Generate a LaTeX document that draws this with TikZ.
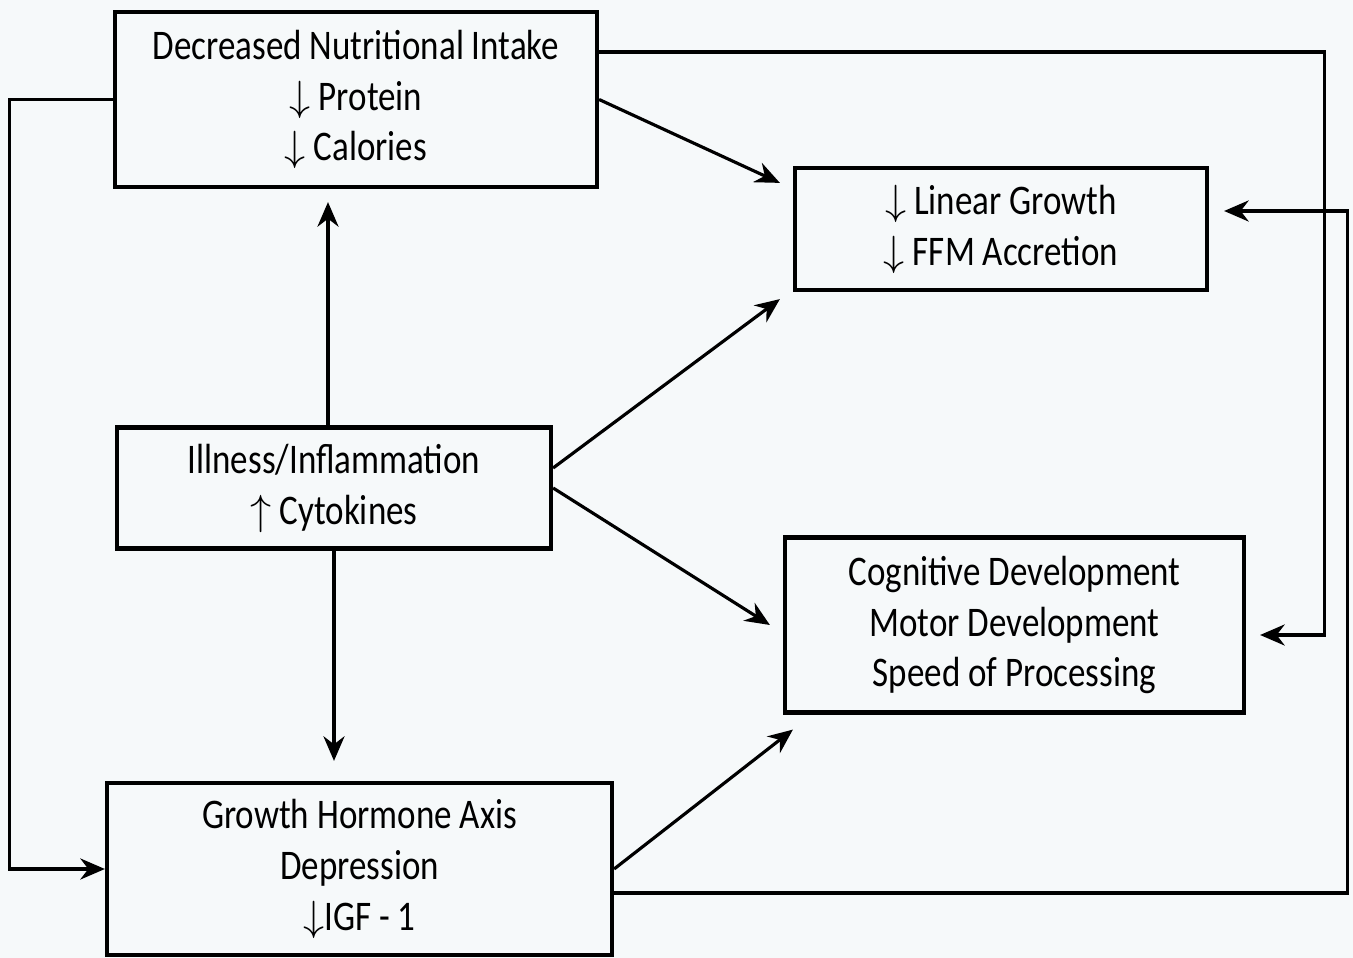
\documentclass[tikz,border=0pt]{standalone}
\usepackage{fontspec}
\setmainfont[FakeStretch=0.83]{Carlito}
\usetikzlibrary{arrows.meta}

\begin{document}
\begin{tikzpicture}[
            caixa/.style={shape=rectangle, draw=black, line width=1.2pt, align=center, inner sep=0pt,
                font=\fontsize{12}{14.5}\selectfont},
            seta/.style={line width=0.9pt, -{Stealth[length=7pt, width=6pt]}},
            linha/.style={line width=0.9pt},
        ]
        \fill[fill={rgb,255:red,246;green,249;blue,250}] (0, 0) rectangle (13.53, 9.58);

        \node[caixa, minimum width=4.82cm, minimum height=1.75cm] (nut) at (3.56, 8.585)
            {Decreased Nutritional Intake\\$\downarrow$ Protein\\$\downarrow$ Calories};
        \node[caixa, minimum width=4.12cm, minimum height=1.22cm] (lin) at (10.01, 7.29)
            {$\downarrow$ Linear Growth\\$\downarrow$ FFM Accretion};
        \node[caixa, minimum width=4.34cm, minimum height=1.21cm] (ill) at (3.34, 4.70)
            {Illness/Inflammation\\$\uparrow$ Cytokines};
        \node[caixa, minimum width=4.59cm, minimum height=1.75cm] (cog) at (10.145, 3.33)
            {Cognitive Development\\Motor Development\\Speed of Processing};
        \node[caixa, minimum width=5.05cm, minimum height=1.72cm] (gh) at (3.595, 0.89)
            {Growth Hormone Axis\\Depression\\$\downarrow$IGF - 1};

        \draw[seta] (nut.east) -- ([xshift=-0.13cm, yshift=-0.17cm]lin.north west);
        \draw[seta] ([yshift=0.2cm]ill.east) -- ([xshift=-0.13cm, yshift=-0.07cm]lin.south west);
        \draw[seta] (ill.east) -- ([xshift=-0.13cm]cog.west);
        \draw[seta] (gh.east) -- ([xshift=0.1cm, yshift=-0.15cm]cog.south west);
        \draw[seta, shorten >=0.13cm] ([xshift=-0.06cm]ill.north) -- ([xshift=-0.06cm]ill.north |- nut.south);
        \draw[seta, shorten >=0.2cm] (ill.south) -- (ill.south |- gh.north);

        \draw[seta] (nut.west) -- ++(-1.03, 0) |- (gh.west);
        \draw[seta, shorten >=0.14cm] ([yshift=0.475cm]nut.east) -- ++(7.25, 0) |- ([yshift=-0.1cm]cog.east);
        \draw[seta, shorten >=0.15cm] ([yshift=-0.24cm]gh.east) -- ++(7.33, 0) |- ([yshift=0.18cm]lin.east);

    \end{tikzpicture}
\end{document}
